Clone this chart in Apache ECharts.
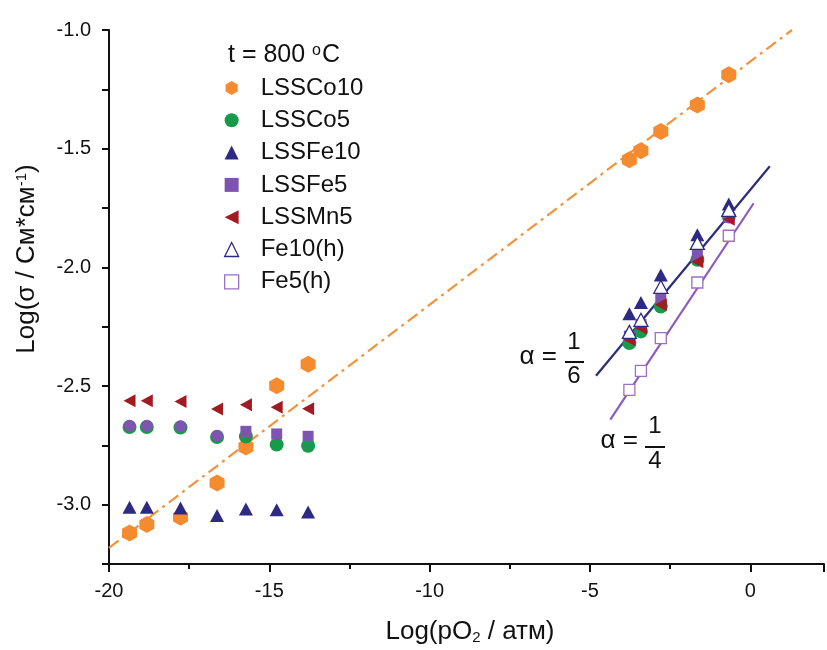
<!DOCTYPE html>
<html>
<head>
<meta charset="utf-8">
<script src="https://cdn.jsdelivr.net/npm/echarts@6/dist/echarts.min.js"></script>
<style>
  html, body { margin: 0; padding: 0; background: #fff; }
  #chart { width: 827px; height: 650px; }
</style>
</head>
<body>
<div id="chart"></div>
<script>
// pO2 columns (log atm)
const xLeft = [-19.36, -18.82, -17.77, -16.63, -15.73, -14.77, -13.79];
const xRight = [-3.77, -3.41, -2.79, -1.65, -0.67];

// log(sigma) values
const co10Left = [-3.119, -3.084, -3.053, -2.909, -2.757, -2.499, -2.408];
const co10Right = [-1.547, -1.509, -1.428, -1.316, -1.189];
const co5Left = [-2.673, -2.673, -2.675, -2.715, -2.713, -2.747, -2.752];
const co5Right = [-2.319, -2.270, -2.165, -1.968, -1.786];
const fe10Left = [-3.011, -3.011, -3.014, -3.046, -3.018, -3.021, -3.031];
const fe10Right = [-2.196, -2.148, -2.032, -1.863, -1.733];
const fe5Left = [-2.668, -2.668, -2.670, -2.710, -2.691, -2.702, -2.712];
const fe5Right = [-2.29, -2.24, -2.13, -1.95, -1.79];
const mn5Left = [-2.562, -2.562, -2.565, -2.597, -2.579, -2.590, -2.596];
const mn5Right = [-2.305, -2.256, -2.158, -1.976, -1.797];
const fe10hRight = [-2.272, -2.221, -2.082, -1.897, -1.758];
const fe5hRight = [-2.516, -2.436, -2.298, -2.064, -1.867];

// fitted lines (end points)
const co10FitX = [-20, 1.3];
const co10FitY = [-3.182, -1.0];
const fit6X = [-4.81, 0.61];
const fit6Y = [-2.457, -1.574];
const fit4X = [-4.365, 0.106];
const fit4Y = [-2.642, -1.730];

const yTickLabels = [-3.0, -2.5, -2.0, -1.5, -1.0];
const xTickLabels = [-20, -15, -10, -5, 0];

const FONT = '"Liberation Sans", Arial, sans-serif';
const hexPath = 'path://M0,-1L0.866,-0.5L0.866,0.5L0,1L-0.866,0.5L-0.866,-0.5Z';
const leftTri = 'path://M0,5L10,0L10,10Z';

const zip = (xs, ys) => ys.map((y, i) => [xs[i], y]);

const chart = echarts.init(document.getElementById('chart'));

const scatter = (name, data, symbol, size, itemStyle) => ({
  type: 'scatter',
  name,
  data,
  symbol,
  symbolSize: size,
  itemStyle: Object.assign({ opacity: 1 }, itemStyle),
  z: 3
});

const fitLine = (xs, ys, color, dash) => ({
  type: 'line',
  data: zip(xs, ys),
  showSymbol: false,
  symbol: 'none',
  silent: true,
  lineStyle: { color, width: 2.2, type: dash || 'solid' },
  z: 2
});

const option = {
  animation: false,
  grid: { left: 109, right: 0, top: 30, bottom: 86 },
  xAxis: {
    type: 'value',
    min: -20,
    max: 2.3,
    interval: 5,
    splitLine: { show: false },
    axisLine: { onZero: false, lineStyle: { color: '#111', width: 2 } },
    axisTick: { inside: false, length: 8, lineStyle: { color: '#111', width: 2 } },
    minorTick: { show: true, splitNumber: 2, length: 5, lineStyle: { color: '#111', width: 2 } },
    axisLabel: {
      margin: 17,
      fontSize: 20,
      fontFamily: FONT,
      color: '#111',
      formatter: v => (xTickLabels.includes(v) ? String(v) : '')
    }
  },
  yAxis: {
    type: 'value',
    min: -3.25,
    max: -1.0,
    interval: 0.25,
    splitLine: { show: false },
    axisLine: { onZero: false, lineStyle: { color: '#111', width: 2 } },
    axisTick: { inside: false, length: 7, lineStyle: { color: '#111', width: 2 } },
    axisLabel: {
      margin: 18,
      fontSize: 20,
      fontFamily: FONT,
      color: '#111',
      formatter: v => {
        const hit = yTickLabels.find(t => Math.abs(t - v) < 1e-6);
        return hit === undefined ? '' : hit.toFixed(1);
      }
    }
  },
  legend: {
    orient: 'vertical',
    left: 224,
    top: 76,
    padding: 0,
    itemGap: 8.3,
    itemWidth: 14,
    itemHeight: 14,
    symbolKeepAspect: true,
    selectedMode: false,
    itemStyle: { borderWidth: 0, opacity: 1 },
    formatter: name => '{g|}' + name,
    textStyle: {
      fontSize: 24, lineHeight: 24, fontFamily: FONT, color: '#111',
      rich: { g: { width: 17, fontSize: 24, lineHeight: 24 } }
    },
    data: [
      { name: 'LSSCo10', icon: hexPath },
      { name: 'LSSCo5', icon: 'circle' },
      { name: 'LSSFe10', icon: 'triangle' },
      { name: 'LSSFe5', icon: 'rect' },
      { name: 'LSSMn5', icon: leftTri },
      { name: 'Fe10(h)', icon: 'triangle', itemStyle: { color: '#fff', borderColor: '#2C2A83', borderWidth: 1.3 } },
      { name: 'Fe5(h)', icon: 'rect', itemStyle: { color: '#fff', borderColor: '#9B6FC6', borderWidth: 1.3 } }
    ]
  },
  graphic: [
    {
      type: 'text', left: 228, top: 43,
      style: {
        text: 't = 800 {s|o}C', fill: '#111', font: '25px ' + FONT,
        rich: { s: { fontSize: 16, fontFamily: FONT, verticalAlign: 'top', padding: [0, 1, 0, 0] } }
      }
    },
    {
      type: 'text', x: 27, y: 259, rotation: Math.PI / 2,
      style: {
        text: 'Log(σ / См*см{s|-1})', fill: '#111', font: '26px ' + FONT,
        align: 'center', verticalAlign: 'middle',
        rich: { s: { fontSize: 15, fontFamily: FONT, verticalAlign: 'top' } }
      }
    },
    {
      type: 'text', x: 470, y: 632,
      style: {
        text: 'Log(pO{s|2} / атм)', fill: '#111', font: '26px ' + FONT,
        align: 'center', verticalAlign: 'middle',
        rich: { s: { fontSize: 15, fontFamily: FONT, verticalAlign: 'bottom' } }
      }
    },
    // alpha = 1/6
    { type: 'text', x: 557, y: 357, style: { text: 'α =', fill: '#111', font: '26px ' + FONT, align: 'right', verticalAlign: 'middle' } },
    { type: 'text', x: 574, y: 342, style: { text: '1', fill: '#111', font: '24px ' + FONT, align: 'center', verticalAlign: 'middle' } },
    { type: 'line', shape: { x1: 565, y1: 362, x2: 584, y2: 362 }, style: { stroke: '#111', lineWidth: 2 } },
    { type: 'text', x: 574, y: 376, style: { text: '6', fill: '#111', font: '24px ' + FONT, align: 'center', verticalAlign: 'middle' } },
    // alpha = 1/4
    { type: 'text', x: 638, y: 441, style: { text: 'α =', fill: '#111', font: '26px ' + FONT, align: 'right', verticalAlign: 'middle' } },
    { type: 'text', x: 655, y: 426, style: { text: '1', fill: '#111', font: '24px ' + FONT, align: 'center', verticalAlign: 'middle' } },
    { type: 'line', shape: { x1: 645, y1: 447, x2: 665, y2: 447 }, style: { stroke: '#111', lineWidth: 2 } },
    { type: 'text', x: 655, y: 461, style: { text: '4', fill: '#111', font: '24px ' + FONT, align: 'center', verticalAlign: 'middle' } }
  ],
  series: [
    fitLine(co10FitX, co10FitY, '#F2923A', [12, 5, 3, 5]),
    fitLine(fit4X, fit4Y, '#8A5BC0'),
    scatter('LSSCo10', zip(xLeft, co10Left).concat(zip(xRight, co10Right)), hexPath, [15, 17], { color: '#F58B2F' }),
    scatter('LSSCo5', zip(xLeft, co5Left).concat(zip(xRight, co5Right)), 'circle', 14, { color: '#179A4A' }),
    scatter('LSSFe10', zip(xLeft, fe10Left).concat(zip(xRight, fe10Right)), 'triangle', [14, 13], { color: '#2C2A83' }),
    {
      type: 'scatter',
      name: 'LSSFe5',
      data: zip(xLeft, fe5Left).concat(zip(xRight, fe5Right)),
      symbol: (val, params) => (params.dataIndex < 4 ? 'circle' : 'rect'),
      symbolSize: (val, params) => (params.dataIndex < 4 ? 12 : 11),
      itemStyle: { color: '#7D55B0', opacity: 1 },
      z: 3
    },
    scatter('LSSMn5', zip(xLeft, mn5Left).concat(zip(xRight, mn5Right)), leftTri, [12, 13], { color: '#A01C22' }),
    scatter('Fe10(h)', zip(xRight, fe10hRight), 'triangle', [14, 13], { color: '#fff', borderColor: '#2C2A83', borderWidth: 1.3 }),
    scatter('Fe5(h)', zip(xRight, fe5hRight), 'rect', 11, { color: '#fff', borderColor: '#9B6FC6', borderWidth: 1.3 }),
    fitLine(fit6X, fit6Y, '#2B2C7C')
  ]
};

chart.setOption(option);
</script>
</body>
</html>
